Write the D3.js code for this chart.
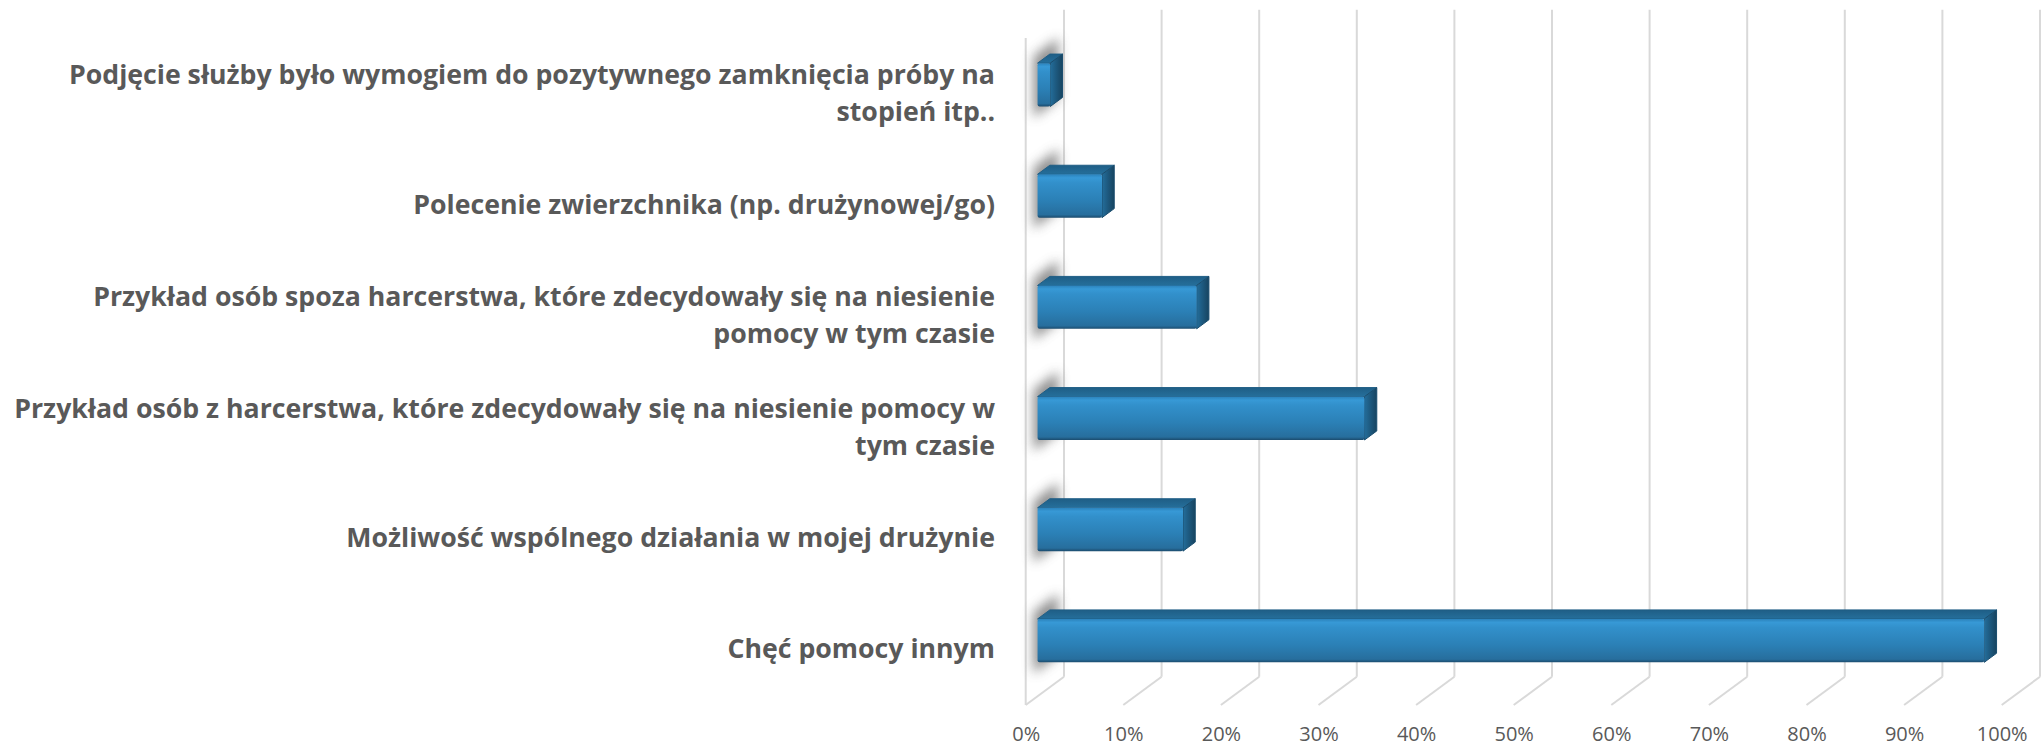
<!DOCTYPE html>
<html>
<head>
<meta charset="utf-8">
<title>Motywacja do podjęcia służby</title>
<script src="https://d3js.org/d3.v7.min.js"></script>
<style>
  body { margin: 0; background: #fff; }
  svg { display: block; }
  .cat-label { font-family: "Open Sans", Lato, sans-serif; font-weight: bold; font-size: 26.7px; fill: #595959; }
  .x-axis text { font-family: "Open Sans", Lato, sans-serif; font-size: 20px; fill: #595959; }
</style>
</head>
<body>
<svg class="chart"></svg>
<script>
// data (top to bottom as in the chart)
const categories = [
  "Podjęcie służby było wymogiem do pozytywnego zamknięcia próby na stopień itp..",
  "Polecenie zwierzchnika (np. drużynowej/go)",
  "Przykład osób spoza harcerstwa, które zdecydowały się na niesienie pomocy w tym czasie",
  "Przykład osób z harcerstwa, które zdecydowały się na niesienie pomocy w tym czasie",
  "Możliwość wspólnego działania w mojej drużynie",
  "Chęć pomocy innym"
];
const labelLines = [
  ["Podjęcie służby było wymogiem do pozytywnego zamknięcia próby na", "stopień itp.."],
  ["Polecenie zwierzchnika (np. drużynowej/go)"],
  ["Przykład osób spoza harcerstwa, które zdecydowały się na niesienie", "pomocy w tym czasie"],
  ["Przykład osób z harcerstwa, które zdecydowały się na niesienie pomocy w", "tym czasie"],
  ["Możliwość wspólnego działania w mojej drużynie"],
  ["Chęć pomocy innym"]
];
const values = [0.013, 0.066, 0.163, 0.335, 0.149, 0.97];
const tickValues = [0, 0.1, 0.2, 0.3, 0.4, 0.5, 0.6, 0.7, 0.8, 0.9, 1];

const width = 2041, height = 748;
const front = {left: 1025.7, right: 2001.7, top: 38, bottom: 705};
const depth = {dx: 38.3, dy: -28.3};   // offset from front plane to back wall
const barFront = 0.31, barBack = 0.63;  // bar depth as fraction of full depth
const barRatio = 0.39;

const svg = d3.select(".chart")
    .attr("width", width)
    .attr("height", height);

const xScale = d3.scaleLinear()
    .domain([0, 1])
    .range([front.left, front.right]);

const yScale = d3.scaleBand()
    .domain(categories)
    .range([front.top, front.bottom]);

const defs = svg.append("defs");

const gFront = defs.append("linearGradient").attr("id", "bar-front")
    .attr("x1", 0).attr("y1", 0).attr("x2", 0).attr("y2", 1);
[[0, "#2b82bb"], [0.08, "#3799d6"], [0.2, "#3290cb"], [0.6, "#2b80b6"], [0.93, "#276e9d"], [1, "#1b4b6d"]]
    .forEach(s => gFront.append("stop").attr("offset", s[0]).attr("stop-color", s[1]));

const gTop = defs.append("linearGradient").attr("id", "bar-top")
    .attr("x1", 0).attr("y1", 0).attr("x2", 0).attr("y2", 1);
[[0, "#1f5e86"], [1, "#256f9b"]]
    .forEach(s => gTop.append("stop").attr("offset", s[0]).attr("stop-color", s[1]));

const gSide = defs.append("linearGradient").attr("id", "bar-side")
    .attr("x1", 0).attr("y1", 0).attr("x2", 1).attr("y2", 0);
[[0, "#246e9b"], [0.4, "#1e5c83"], [1, "#174460"]]
    .forEach(s => gSide.append("stop").attr("offset", s[0]).attr("stop-color", s[1]));

defs.append("filter").attr("id", "soft")
    .attr("x", "-50%").attr("y", "-50%").attr("width", "200%").attr("height", "200%")
    .append("feGaussianBlur").attr("stdDeviation", 6);

// point at value v, front-plane y, depth t
function pt(v, y, t) {
    return [xScale(v) + t * depth.dx, y + t * depth.dy];
}
const poly = pts => pts.map(p => p.join(",")).join(" ");

// back wall gridlines + floor diagonals
const grid = svg.append("g").attr("class", "grid")
    .attr("stroke", "#d9d9d9").attr("stroke-width", 2).attr("fill", "none");

grid.selectAll(".vline")
    .data(tickValues)
    .join("line")
    .attr("class", "vline")
    .attr("x1", d => pt(d, front.top, 1)[0])
    .attr("y1", d => pt(d, front.top, 1)[1])
    .attr("x2", d => pt(d, front.bottom, 1)[0])
    .attr("y2", d => pt(d, front.bottom, 1)[1]);

grid.selectAll(".floor")
    .data(tickValues)
    .join("line")
    .attr("class", "floor")
    .attr("x1", d => pt(d, front.bottom, 1)[0])
    .attr("y1", d => pt(d, front.bottom, 1)[1])
    .attr("x2", d => pt(d, front.bottom, 0)[0])
    .attr("y2", d => pt(d, front.bottom, 0)[1]);

// left wall front edge
grid.append("line")
    .attr("x1", xScale(0)).attr("y1", front.top)
    .attr("x2", xScale(0)).attr("y2", front.bottom);

const step = yScale.step();
const barH = step * barRatio;
const barY = c => yScale(c) + (step - barH) / 2;

// shadows on the left wall
svg.append("g").attr("class", "shadows")
    .selectAll("polygon")
    .data(categories)
    .join("polygon")
    .attr("points", c => {
        const y0 = barY(c) - 10, y1 = barY(c) + barH + 8;
        return poly([pt(0, y0, 0.2), pt(0, y0, 0.85), pt(0, y1, 0.85), pt(0, y1, 0.2)]);
    })
    .attr("fill", "#6b6b6b")
    .attr("opacity", 0.75)
    .attr("filter", "url(#soft)");

// bars
const bars = svg.append("g").attr("class", "bars")
    .selectAll("g")
    .data(categories.map((c, i) => ({cat: c, value: values[i]})))
    .join("g");

bars.append("polygon")
    .attr("points", d => {
        const y0 = barY(d.cat);
        return poly([pt(0, y0, barFront), pt(d.value, y0, barFront), pt(d.value, y0, barBack), pt(0, y0, barBack)]);
    })
    .attr("fill", "url(#bar-top)")
    .attr("stroke", "#1f5e86").attr("stroke-width", 1).attr("stroke-linejoin", "round");

bars.append("polygon")
    .attr("points", d => {
        const y0 = barY(d.cat), y1 = y0 + barH;
        return poly([pt(d.value, y0, barFront), pt(d.value, y0, barBack), pt(d.value, y1, barBack), pt(d.value, y1, barFront)]);
    })
    .attr("fill", "url(#bar-side)")
    .attr("stroke", "#1a4d6e").attr("stroke-width", 1).attr("stroke-linejoin", "round");

bars.append("rect")
    .attr("x", d => pt(0, 0, barFront)[0])
    .attr("y", d => pt(0, barY(d.cat), barFront)[1])
    .attr("width", d => xScale(d.value) - xScale(0))
    .attr("height", barH)
    .attr("rx", 2)
    .attr("fill", "url(#bar-front)");

// category labels
const labels = svg.append("g").attr("class", "labels")
    .selectAll("text")
    .data(labelLines)
    .join("text")
    .attr("class", "cat-label")
    .attr("text-anchor", "end");

labels.each(function(lines, i) {
    const cy = yScale(categories[i]) + step / 2;
    const lh = 37;
    d3.select(this).selectAll("tspan")
        .data(lines)
        .join("tspan")
        .attr("x", 995)
        .attr("y", (l, j) => cy + (j - (lines.length - 1) / 2) * lh + 9)
        .text(l => l);
});

// x axis labels
const xAxis = d3.axisBottom(xScale)
    .tickValues(tickValues)
    .tickFormat(d3.format(".0%"))
    .tickSize(0)
    .tickPadding(22);

svg.append("g")
    .attr("class", "x-axis")
    .attr("transform", "translate(0," + front.bottom + ")")
    .call(xAxis)
    .call(g => g.select(".domain").remove());
</script>
</body>
</html>
